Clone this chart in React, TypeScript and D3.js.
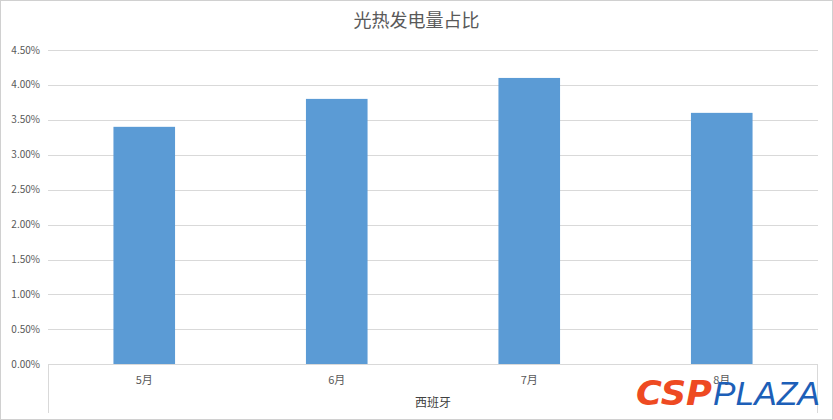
import React from "react";
import * as d3 from "d3";

const categories = ["5月", "6月", "7月", "8月"];
const values = [0.034, 0.038, 0.041, 0.036];
const yTicks = [0, 0.005, 0.01, 0.015, 0.02, 0.025, 0.03, 0.035, 0.04, 0.045];
const title = "光热发电量占比";
const groupLabel = "西班牙";

export default function App() {
  const W = 833, H = 420;
  const left = 48, right = 818, top = 50, bottom = 364.3;
  const x = d3.scaleBand<string>().domain(categories).range([left, right]).paddingInner(0.68).paddingOuter(0.34);
  const y = d3.scaleLinear().domain([0, 0.045]).range([bottom, top]);
  const fmt = d3.format(".2%");
  const font = "'Noto Sans CJK SC', 'Microsoft YaHei', sans-serif";
  return (
    <div style={{ position: "fixed", left: 0, top: 0 }}>
      <svg width={W} height={H} style={{ display: "block", background: "#fff" }}>
        <rect x={0.5} y={0.5} width={W - 1} height={H - 1} fill="#fff" stroke="#d0d0d0" />
        <text x={W / 2} y={27} textAnchor="middle" fontFamily={font} fontSize={18} fill="#595959">{title}</text>
        {yTicks.map((t) => (
          <g key={t}>
            {t > 0 && <line x1={left} x2={right} y1={Math.round(y(t)) + 0.5} y2={Math.round(y(t)) + 0.5} stroke="#d9d9d9" />}
            <text x={40} y={y(t) + 3.5} textAnchor="end" fontFamily={font} fontSize={10} fill="#595959">{fmt(t)}</text>
          </g>
        ))}
        {categories.map((c, i) => (
          <rect key={c} x={x(c)} y={y(values[i])} width={x.bandwidth()} height={y(0) - y(values[i])} fill="#5B9BD5" />
        ))}
        <line x1={left} x2={right} y1={Math.round(bottom) + 0.5} y2={Math.round(bottom) + 0.5} stroke="#d9d9d9" />
        <line x1={left + 0.5} x2={left + 0.5} y1={bottom} y2={413} stroke="#d9d9d9" />
        <line x1={right - 0.5} x2={right - 0.5} y1={bottom} y2={413} stroke="#d9d9d9" />
        {categories.map((c) => (
          <text key={c} x={(x(c) as number) + x.bandwidth() / 2} y={384} textAnchor="middle" fontFamily={font} fontSize={11} fill="#595959">{c}</text>
        ))}
        <text x={(left + right) / 2} y={407} textAnchor="middle" fontFamily={font} fontSize={12} fill="#404040">{groupLabel}</text>
        <g transform="translate(636,405)">
          <text x={0} y={0} fontFamily="'DejaVu Sans', sans-serif" fontWeight={900} fontStyle="italic" fontSize={34} fill="#EE4A22" textLength={76} lengthAdjust="spacingAndGlyphs">CSP</text>
          <text x={77} y={0} fontFamily="'Liberation Sans', sans-serif" fontStyle="italic" fontSize={34} fill="#1D5FB8" textLength={107} lengthAdjust="spacingAndGlyphs">PLAZA</text>
        </g>
      </svg>
    </div>
  );
}
